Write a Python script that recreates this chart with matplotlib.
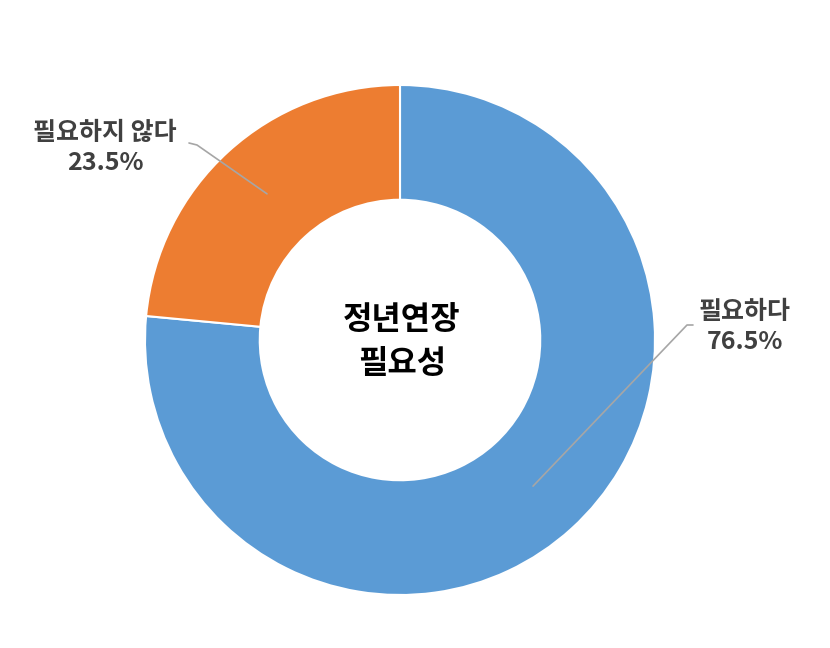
import matplotlib
matplotlib.use("Agg")
import matplotlib.pyplot as plt
import numpy as np

plt.rcParams['font.family'] = ['Noto Sans CJK KR', 'DejaVu Sans']

# 데이터
labels = ['필요하다', '필요하지 않다']
values = [76.5, 23.5]
colors = ['#5B9BD5', '#ED7D31']
center_title = '정년연장\n필요성'

W, H = 830, 648
cx, cy = 400, H - 340
r_out = 255
ring = 0.45

fig = plt.figure(figsize=(W / 100, H / 100), dpi=100)
ax = fig.add_axes([0, 0, 1, 1])

wedges, _ = ax.pie(values, colors=colors, startangle=90, counterclock=False,
                   radius=r_out, center=(cx, cy),
                   wedgeprops=dict(width=r_out * ring, edgecolor='white', linewidth=1.5))

# pie가 축 범위를 바꾸므로 나중에 설정
ax.set_xlim(0, W)
ax.set_ylim(0, H)
ax.set_aspect('equal')
ax.axis('off')

ax.text(cx + 2, cy - 2, center_title, ha='center', va='center', fontsize=23,
        fontweight='bold', color='black', linespacing=1.45)

# 라벨 위치 (텍스트 중심, 꺾임점)
label_pos = [(745, H - 327), (105, H - 148)]
elbow = [((693, H - 325), (687, H - 325)), ((189, H - 143), (197, H - 145))]

r_mid = r_out * (1 - ring / 2)
for w, lab, val, (tx, ty), (p0, p1) in zip(wedges, labels, values, label_pos, elbow):
    ang = np.deg2rad((w.theta1 + w.theta2) / 2)
    ex, ey = cx + r_mid * np.cos(ang), cy + r_mid * np.sin(ang)
    ax.plot([p0[0], p1[0], ex], [p0[1], p1[1], ey], color='#A6A6A6', lw=1.2,
            solid_capstyle='round')
    ax.text(tx, ty, f'{lab}\n{val}%', ha='center', va='center', fontsize=18,
            fontweight='bold', color='#404040', linespacing=1.35)

fig.savefig('out.png', dpi=100, facecolor='white')
